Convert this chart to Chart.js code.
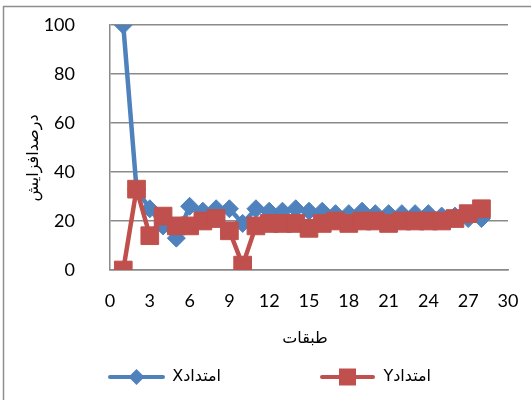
<!DOCTYPE html>
<html>
<head>
<meta charset="utf-8">
<script src="https://cdn.jsdelivr.net/npm/chart.js@4/dist/chart.umd.min.js"></script>
<style>
  html, body { margin: 0; padding: 0; background: #fff; }
  #wrap { position: relative; width: 531px; height: 400px; }
</style>
</head>
<body>
<div id="wrap"><canvas id="chart" width="531" height="400"></canvas></div>
<script>
// داده‌ها
const layers = [1, 2, 3, 4, 5, 6, 7, 8, 9, 10, 11, 12, 13, 14, 15, 16, 17, 18, 19, 20, 21, 22, 23, 24, 25, 26, 27, 28];
const extendX = [100, 33, 25, 18, 13, 26, 24, 25, 25, 19, 25, 24, 24, 25, 24, 24, 23, 23, 24, 23, 23, 23, 23, 23, 22, 22, 21, 21];
const extendY = [0, 33, 14, 22, 18, 18, 20, 21, 16, 2, 18, 19, 19, 19, 17, 19, 20, 19, 20, 20, 19, 20, 20, 20, 20, 21, 23, 25];
const xTicks = [0, 3, 6, 9, 12, 15, 18, 21, 24, 27, 30];
const yTicks = [0, 20, 40, 60, 80, 100];
const seriesNames = ["امتدادX", "امتدادY"];
const xTitle = "طبقات";
const yTitle = "درصدافزایش";

const BLUE = "#4F81BD";
const RED = "#C0504D";
const GRID = "#8a8a8a";
const NUM_FONT = "Lato, 'DejaVu Sans', sans-serif";
const AR_FONT = "'DejaVu Sans', sans-serif";

const toPoints = (vals) => layers.map((x, i) => ({ x: x, y: vals[i] }));

// قاب، عنوان محورها و راهنما
const decor = {
  id: "decor",
  beforeDraw(chart) {
    const ctx = chart.ctx;
    ctx.save();
    ctx.strokeStyle = "#8e8e8e";
    ctx.lineWidth = 1.5;
    ctx.beginPath();
    ctx.moveTo(3.5, 400);
    ctx.lineTo(3.5, 6.5);
    ctx.lineTo(531, 6.5);
    ctx.stroke();
    ctx.restore();
  },
  afterDraw(chart) {
    const ctx = chart.ctx;
    ctx.save();
    ctx.fillStyle = "#000";
    ctx.textBaseline = "middle";
    ctx.textAlign = "center";
    ctx.font = "16px " + AR_FONT;
    ctx.fillText(xTitle, 305, 339);
    ctx.save();
    ctx.translate(34, 158);
    ctx.rotate(-Math.PI / 2);
    ctx.fillText(yTitle, 0, 0);
    ctx.restore();

    // legend
    const items = [
      { color: BLUE, x0: 110, x1: 163, shape: "diamond", textRight: 221 },
      { color: RED, x0: 322, x1: 373, shape: "square", textRight: 431 },
    ];
    const ly = 377;
    items.forEach((it, i) => {
      ctx.strokeStyle = it.color;
      ctx.fillStyle = it.color;
      ctx.lineWidth = 4;
      ctx.lineCap = "round";
      ctx.beginPath();
      ctx.moveTo(it.x0, ly);
      ctx.lineTo(it.x1, ly);
      ctx.stroke();
      const cx = (it.x0 + it.x1) / 2;
      ctx.beginPath();
      if (it.shape === "diamond") {
        ctx.moveTo(cx - 8, ly);
        ctx.lineTo(cx, ly - 8);
        ctx.lineTo(cx + 8, ly);
        ctx.lineTo(cx, ly + 8);
      } else {
        ctx.rect(cx - 8.5, ly - 8.5, 17, 17);
      }
      ctx.closePath();
      ctx.fill();
      ctx.fillStyle = "#000";
      ctx.direction = "rtl";
      ctx.textAlign = "right";
      ctx.font = "16px " + AR_FONT;
      ctx.fillText(seriesNames[i], it.textRight, ly);
    });
    ctx.restore();
  },
};

new Chart(document.getElementById("chart"), {
  type: "line",
  data: {
    datasets: [
      {
        label: seriesNames[0],
        data: toPoints(extendX),
        borderColor: BLUE,
        backgroundColor: BLUE,
        borderWidth: 4.5,
        pointStyle: "rectRot",
        pointRadius: 9,
        pointBorderWidth: 1,
        pointBorderColor: BLUE,
        tension: 0,
        order: 1,
      },
      {
        label: seriesNames[1],
        data: toPoints(extendY),
        borderColor: RED,
        backgroundColor: RED,
        borderWidth: 4.5,
        pointStyle: "rect",
        pointRadius: 12.5,
        pointBorderWidth: 1,
        pointBorderColor: RED,
        tension: 0,
        order: 0,
      },
    ],
  },
  options: {
    responsive: false,
    animation: false,
    layout: { autoPadding: false, padding: { left: 0, right: 23, top: 25, bottom: 0 } },
    plugins: {
      legend: { display: false },
      tooltip: { enabled: false },
      title: { display: false },
    },
    scales: {
      x: {
        type: "linear",
        min: 0,
        max: 30,
        afterBuildTicks: (s) => { s.ticks = xTicks.map((v) => ({ value: v })); },
        afterFit: (s) => { s.height = 130; s.paddingLeft = 0; s.paddingRight = 0; },
        grid: { display: false, drawTicks: false },
        border: { display: true, color: GRID, width: 1.5 },
        ticks: { padding: 20, color: "#000", font: { family: NUM_FONT, size: 18 }, maxRotation: 0 },
      },
      y: {
        type: "linear",
        min: 0,
        max: 100,
        afterBuildTicks: (s) => { s.ticks = yTicks.map((v) => ({ value: v })); },
        afterFit: (s) => { s.width = 110; s.paddingTop = 0; s.paddingBottom = 0; },
        grid: { color: GRID, lineWidth: 1.5, drawTicks: false },
        border: { display: true, color: GRID, width: 1.5 },
        ticks: { padding: 35, color: "#000", font: { family: NUM_FONT, size: 18 } },
      },
    },
  },
  plugins: [decor],
});
</script>
</body>
</html>
